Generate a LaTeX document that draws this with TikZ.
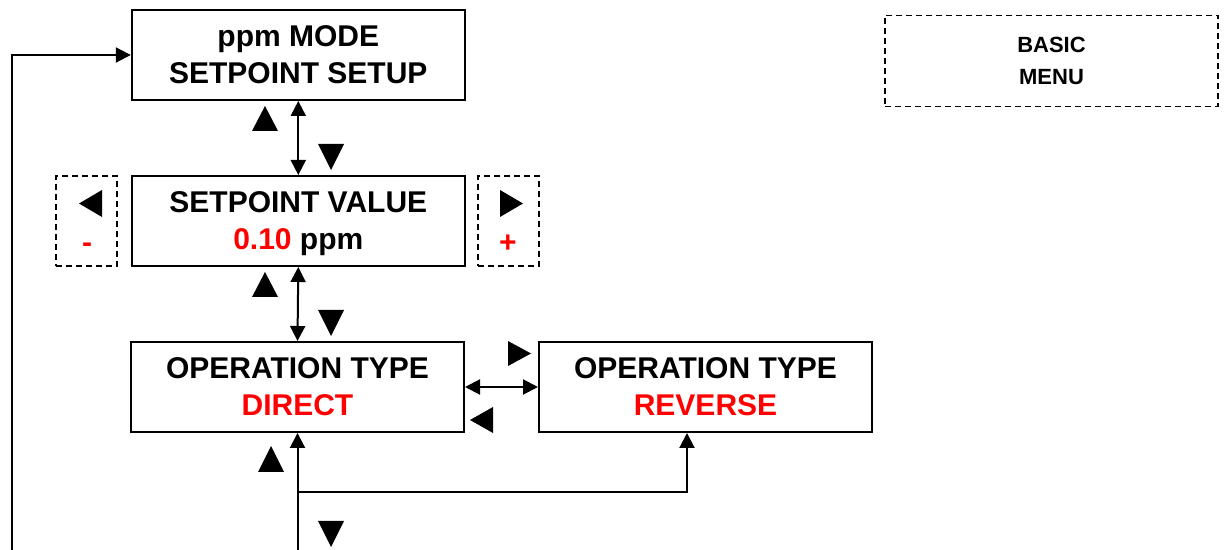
\documentclass[tikz,border=0pt]{standalone}
\usepackage{fontspec}
\setmainfont{Liberation Sans}
\usepackage{tikz}
\usetikzlibrary{arrows.meta, positioning, calc}

\tikzset{
  menubox/.style={draw, line width=1pt, minimum width=166.5pt, minimum height=45pt,
    inner sep=0pt, text depth=0pt, align=center, font=\fontsize{15}{18.5}\selectfont\bfseries},
  keybox/.style={draw, dash pattern=on 3pt off 2pt, line width=0.8pt,
    minimum width=30.5pt, minimum height=45pt, inner sep=0pt},
  sign/.style={text=red, anchor=base, inner sep=0pt, font=\fontsize{15}{18}\selectfont\bfseries},
  flow/.style={line width=1pt, -{Triangle[length=7.5pt,width=7.5pt]}},
  flowboth/.style={line width=1pt, {Triangle[length=7.5pt,width=7.5pt]}-{Triangle[length=7.5pt,width=7.5pt]}}
}

\begin{document}
\begin{tikzpicture}[x=0.5pt,y=-0.5pt]
  \useasboundingbox (0,0) rectangle (1227,550);

  % Menu boxes
  \node[menubox] (setup) at (298.3,55) {ppm MODE\\SETPOINT SETUP};
  \node[menubox] (value) at (298.3,221) {SETPOINT VALUE\\\textcolor{red}{0.10} ppm};
  \node[menubox] (direct) at (297.5,387) {OPERATION TYPE\\\textcolor{red}{DIRECT}};
  \node[menubox] (reverse) at (705.5,387) {OPERATION TYPE\\\textcolor{red}{REVERSE}};

  % Key boxes beside the setpoint value
  \node[keybox] (minus) at (86.5,221) {};
  \node[keybox] (plus) at (508.5,221) {};
  \node[sign] (minussign) at (87,253) {-};
  \node[sign] (plussign) at (508,253) {+};

  % Menu label
  \node[draw, dash pattern=on 3pt off 2pt, line width=0.8pt, minimum width=166.5pt,
    minimum height=45.5pt, align=center, font=\fontsize{11}{16}\selectfont\bfseries]
    (basic) at (1051.5,61) {BASIC\\MENU};

  % Free ends
  \coordinate (bottom) at (297.5,550);
  \coordinate (branch) at (297.5,492);
  \coordinate (loopstart) at (12,550);

  % Connectors
  \draw[flowboth] (setup.south) -- (value.north);
  \draw[flowboth] (value.south) -- (direct.north);
  \draw[flowboth] (direct.east) -- (reverse.west);
  \draw[flow] (bottom) -- (direct.south);
  \draw[flow] (branch) -| ([xshift=-9.25pt]reverse.south);
  \draw[flow] (loopstart) |- (setup.west);

  % Key triangles between setup and value
  \fill (252,131) -- (278,131) -- (265,106) -- cycle;
  \fill (318,144) -- (344,144) -- (331,170) -- cycle;

  % Key triangles between value and direct
  \fill (252,297) -- (278,297) -- (265,272) -- cycle;
  \fill (318,310) -- (344,310) -- (331,336) -- cycle;

  % Key triangles between direct and reverse
  \fill (508,341) -- (508,366) -- (531,353.5) -- cycle;
  \fill (493,407) -- (493,433) -- (470,420) -- cycle;

  % Key triangles below direct
  \fill (258,472) -- (284,472) -- (271,446) -- cycle;
  \fill (318,521) -- (344,521) -- (331,547) -- cycle;

  % Left and right keys
  \fill (102,190) -- (102,217) -- (79,203.5) -- cycle;
  \fill (500,190) -- (500,217) -- (523,203.5) -- cycle;
\end{tikzpicture}
\end{document}
